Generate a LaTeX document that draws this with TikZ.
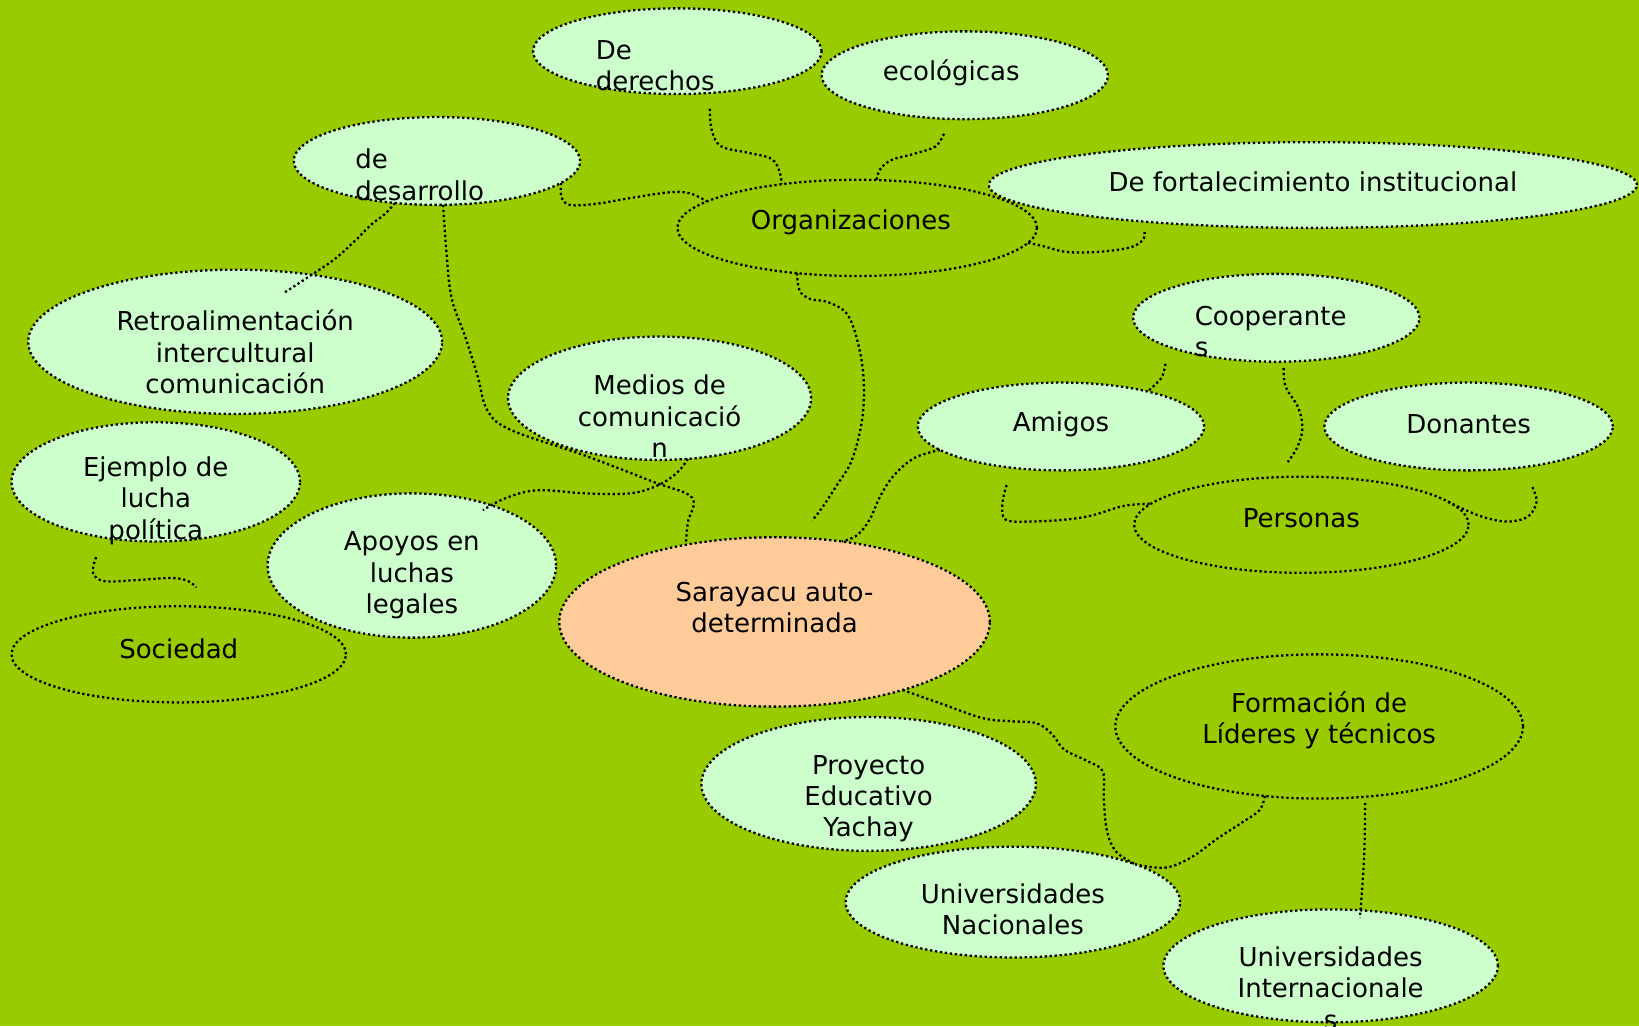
\documentclass[tikz,border=0pt]{standalone}
\usepackage{fontspec}
\setmainfont{DejaVu Sans}
\usetikzlibrary{shapes.geometric,calc}
\definecolor{bggreen}{RGB}{153,204,0}
\definecolor{lightc}{RGB}{204,255,204}
\definecolor{peach}{RGB}{255,204,153}
\tikzset{
  dots/.style={draw=black, line width=2.3pt, dash pattern=on 2.3pt off 2.7pt},
  ell/.style 2 args={ellipse, dots, minimum width=#1*1.0453pt, minimum height=#2*1.0453pt, inner sep=0pt, outer sep=0pt},
  lt/.style={fill=lightc},
  pc/.style={fill=peach},
  txt/.style={font=\fontsize{26}{31.4}\selectfont, inner sep=0pt, outer sep=0pt, align=center, text=black, yshift=-2.2pt},
  txtl/.style={txt, align=left, anchor=west},
  conn/.style={dots}
}
\begin{document}
\begin{tikzpicture}[x=1.0453pt, y=-1.0453pt]
\fill[bggreen] (0,0) rectangle (1568,982);
\useasboundingbox (0,0) rectangle (1568,982);

% filled ellipses
\node[ell={276}{82}, lt] (derechos) at (648,49) {};
\node[ell={274}{84}, lt] (ecol) at (923,72) {};
\node[ell={274}{84}, lt] (desarrollo) at (418,154) {};
\node[ell={620}{82}, lt] (fort) at (1256,177) {};
\node[ell={396}{138}, lt] (retro) at (225,327) {};
\node[ell={290}{118}, lt] (medios) at (631,381) {};
\node[ell={274}{84}, lt] (coop) at (1221,304) {};
\node[ell={274}{84}, lt] (amigos) at (1015,408) {};
\node[ell={276}{84}, lt] (donantes) at (1405,408) {};
\node[ell={276}{114}, lt] (ejemplo) at (149,461) {};
\node[ell={276}{138}, lt] (apoyos) at (394,541) {};
\node[ell={412}{162}, pc] (sarayacu) at (741,595) {};
\node[ell={320}{128}, lt] (proyecto) at (831,750) {};
\node[ell={320}{106}, lt] (unac) at (969,863) {};
\node[ell={320}{108}, lt] (uint) at (1273,924) {};
% unfilled ellipses
\node[ell={344}{92}] (org) at (820,218) {};
\node[ell={320}{92}] (personas) at (1245,502) {};
\node[ell={320}{92}] (sociedad) at (171,626) {};
\node[ell={390}{138}] (formacion) at (1262,695) {};

% texts
\node[txtl] (t-derechos) at (570,60.5) {De\\derechos};
\node[txt] (t-ecol) at (910,68) {ecológicas};
\node[txtl] (t-desarrollo) at (340,165) {de\\desarrollo};
\node[txt] (t-org) at (814,211) {Organizaciones};
\node[txt] (t-fort) at (1256,172) {De fortalecimiento institucional};
\node[txt] (t-retro) at (225,334.5) {Retroalimentación\\intercultural\\comunicación};
\node[txt] (t-medios) at (631,396) {Medios de\\comunicació\\n};
\node[txtl] (t-coop) at (1143,315) {Cooperante\\s};
\node[txt] (t-amigos) at (1015,404) {Amigos};
\node[txt] (t-donantes) at (1405,404) {Donantes};
\node[txt] (t-personas) at (1245,494) {Personas};
\node[txt] (t-ejemplo) at (149,477) {Ejemplo de\\lucha\\política};
\node[txt] (t-apoyos) at (394,548.5) {Apoyos en\\luchas\\legales};
\node[txt] (t-sociedad) at (171,619) {Sociedad};
\node[txt] (t-sarayacu) at (741,579) {Sarayacu auto-\\determinada};
\node[txt] (t-formacion) at (1262,687) {Formación de\\Líderes y técnicos};
\node[txt] (t-proyecto) at (831,762) {Proyecto\\Educativo\\Yachay};
\node[txt] (t-unac) at (969,868) {Universidades\\Nacionales};
\node[txt] (t-uint) at (1273,943) {Universidades\\Internacionale\\s};

% free connector ends
\coordinate (a1) at ($(derechos.south)+(31,14)$);
\coordinate (b1) at ($(ecol.south)+(-20,14)$);
\coordinate (d1) at ($(fort.south)+(-161,4)$);
\coordinate (e1) at ($(sarayacu.north)+(36,-16)$);
\coordinate (f1) at ($(retro.north)+(47,22)$);
\coordinate (h1) at ($(apoyos.north)+(68,16)$);
\coordinate (j1) at ($(coop.south)+(-106,2)$);
\coordinate (k1) at ($(coop.south)+(7,6)$);
\coordinate (k2) at ($(personas.north)+(-13,-14)$);
\coordinate (l1) at ($(amigos.south)+(-52,14)$);
\coordinate (m1) at ($(donantes.south)+(61,16)$);
\coordinate (n1) at ($(ejemplo.south)+(-57,15)$);
\coordinate (n2) at ($(sociedad.north)+(17,-18)$);
\coordinate (q1) at ($(formacion.south)+(44,4)$);
\coordinate (q2) at ($(uint.north)+(28,8)$);

% connectors
\draw[conn] plot[smooth, tension=0.6] coordinates {(a1) (681,125) (690,140) (715,146) (738,152) (746,165) (org.150)};
\draw[conn] plot[smooth, tension=0.6] coordinates {(b1) (895,140) (875,147) (853,153) (842,162) (org.68)};
\draw[conn] plot[smooth, tension=0.6] coordinates {(desarrollo.-10) (537,188) (545,196) (570,195) (600,190) (640,184) (660,185) (org.170)};
\draw[conn] plot[smooth, tension=0.6] coordinates {(org.-5) (1000,236) (1020,241) (1050,241) (1080,237) (1093,230) (d1)};
\draw[conn] plot[smooth, tension=0.6] coordinates {(org.217) (765,278) (775,286) (792,289) (810,300) (820,325) (826,360) (825,400) (815,440) (800,465) (787,485) (e1)};
\draw[conn] plot[smooth, tension=0.6] coordinates {(desarrollo.225) (368,205) (355,215) (340,230) (320,248) (295,265) (f1)};
\draw[conn] plot[smooth, tension=0.6] coordinates {(desarrollo.-82) (427,240) (432,285) (445,322) (457,360) (466,392) (488,411) (560,436) (625,461) (662,476) (658,500) (sarayacu.139)};
\draw[conn] plot[smooth, tension=0.6] coordinates {(medios.-65) (648,452) (630,464) (603,472) (560,472) (515,469) (485,476) (h1)};
\draw[conn] plot[smooth, tension=0.6] coordinates {(amigos.191) (875,438) (855,455) (842,475) (832,497) (820,512) (sarayacu.50)};
\draw[conn] plot[smooth, tension=0.6] coordinates {(j1) (1112,360) (1105,368) (amigos.22)};
\draw[conn] plot[smooth, tension=0.6] coordinates {(k1) (1230,370) (1242,390) (1246,410) (1241,428) (k2)};
\draw[conn] plot[smooth, tension=0.6] coordinates {(l1) (959,482) (962,497) (985,499) (1020,497) (1045,493) (1075,484) (personas.172)};
\draw[conn] plot[smooth, tension=0.6] coordinates {(m1) (1470,480) (1462,494) (1443,499) (1420,495) (1400,487) (personas.9)};
\draw[conn] plot[smooth, tension=0.6] coordinates {(n1) (89,548) (100,556) (130,555) (165,553) (180,556) (n2)};
\draw[conn] plot[smooth, tension=0.6] coordinates {(sarayacu.-28.5) (900,673) (940,687) (968,690) (992,692) (1007,703) (1018,717) (1040,728) (1055,738) (1056,765) (1059,795) (1068,815) (unac.17)};
\draw[conn] plot[smooth, tension=0.6] coordinates {(formacion.232) (1205,775) (1188,787) (1165,802) (1140,820) (1115,830) (unac.17)};
\draw[conn] plot[smooth, tension=0.6] coordinates {(q1) (1305,820) (q2)};
\end{tikzpicture}
\end{document}
